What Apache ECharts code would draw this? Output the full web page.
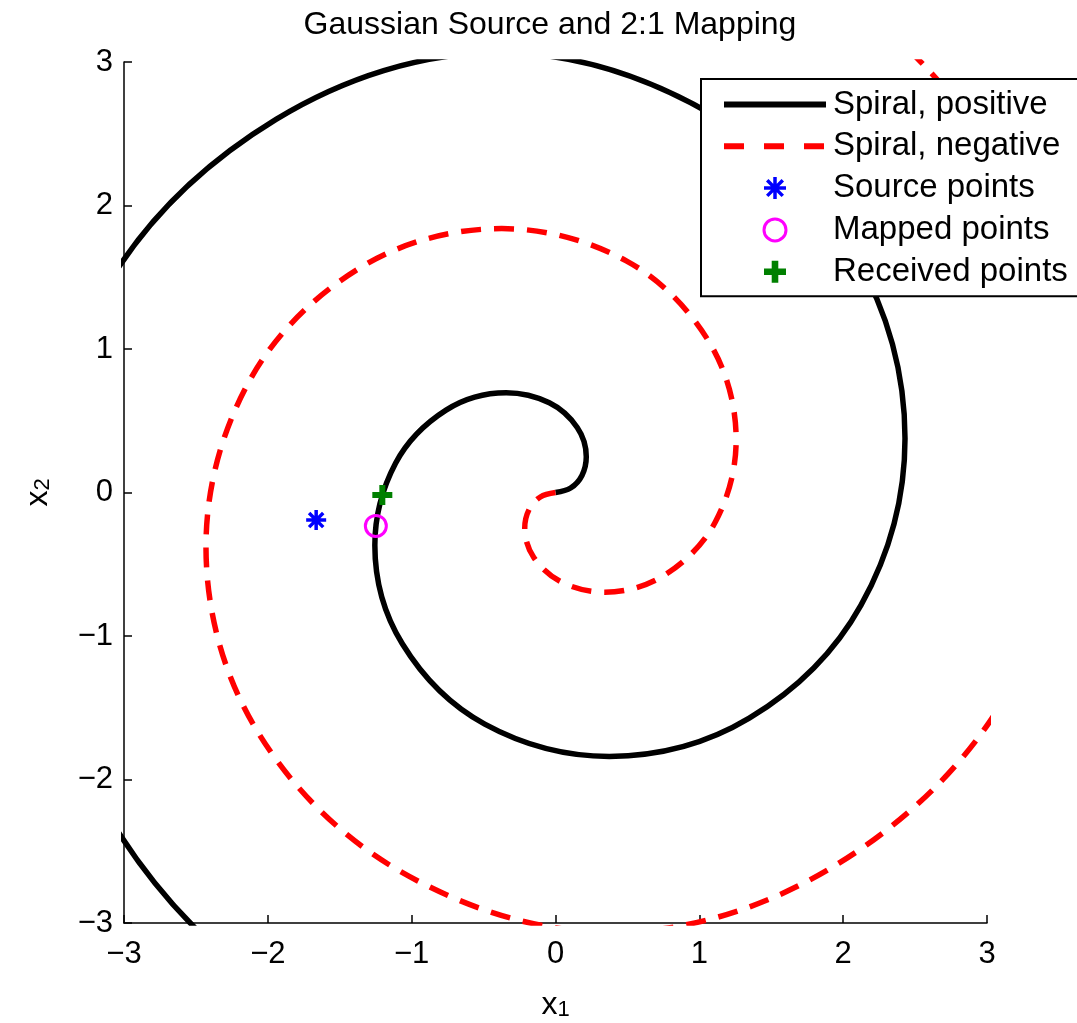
<!DOCTYPE html>
<html>
<head>
<meta charset="utf-8">
<script src="https://cdn.jsdelivr.net/npm/echarts@6/dist/echarts.min.js"></script>
<style>html,body{margin:0;padding:0;background:#fff}#c{width:1077px;height:1023px}</style>
</head>
<body>
<div id="c"></div>
<script>
// ---- data ----
const xTicks = [-3, -2, -1, 0, 1, 2, 3];
const yTicks = [-3, -2, -1, 0, 1, 2, 3];
const titleText = 'Gaussian Source and 2:1 Mapping';
const seriesNames = ['Spiral, positive', 'Spiral, negative', 'Source points', 'Mapped points', 'Received points'];

// points along each spiral arm (incl. its left/right/top/bottom turning points)
const spiralPositive = [
  [0, 0], [0.105, 0.031], [0.184, 0.119], [0.214, 0.249], [0.151, 0.453],
  [-0.043, 0.625], [-0.343, 0.695], [-0.761, 0.574], [-1.112, 0.204],
  [-1.256, -0.367], [-1.065, -1.054], [-0.492, -1.614], [0.374, -1.839],
  [1.347, -1.573], [2.124, -0.785], [2.430, 0.377], [2.085, 1.644],
  [1.081, 2.639], [-0.390, 3.065], [-1.943, 2.600], [-3.153, 1.381],
  [-3.620, -0.379], [-3.117, -2.240], [-1.676, -3.672], [0.382, -4.218]
];
const spiralNegative = [
  [0, 0], [-0.105, -0.031], [-0.184, -0.119], [-0.214, -0.249], [-0.151, -0.453],
  [0.043, -0.625], [0.343, -0.695], [0.761, -0.574], [1.112, -0.204],
  [1.256, 0.367], [1.065, 1.054], [0.492, 1.614], [-0.374, 1.839],
  [-1.347, 1.573], [-2.124, 0.785], [-2.430, -0.377], [-2.085, -1.644],
  [-1.081, -2.639], [0.390, -3.065], [1.943, -2.600], [3.153, -1.381],
  [3.620, 0.379], [3.117, 2.240], [1.676, 3.672], [-0.382, 4.218]
];
const sourcePoints = [[-1.664, -0.192]];
const mappedPoints = [[-1.249, -0.233]];
const receivedPoints = [[-1.204, -0.017]];

// ---- chart ----
const FONT = '"Liberation Sans", Arial, Helvetica, sans-serif';
const fmt = v => String(v).replace('-', '\u2212');
const chart = echarts.init(document.getElementById('c'), null, {renderer: 'canvas'});

const axisCommon = {
  type: 'value',
  axisLine: {onZero: false, lineStyle: {color: '#000', width: 1.5}},
  axisTick: {inside: true, length: 8, lineStyle: {color: '#000', width: 1.5}},
  splitLine: {show: false},
  nameLocation: 'middle'
};
const nameRich = {
  a: {fontFamily: FONT, fontSize: 32, lineHeight: 32, color: '#000', verticalAlign: 'top'},
  b: {fontFamily: FONT, fontSize: 22, lineHeight: 22, color: '#000', verticalAlign: 'bottom', padding: [24, 0, 0, 0]}
};
const tickLabel = {fontFamily: FONT, fontSize: 31, color: '#000', formatter: fmt, showMinLabel: true, showMaxLabel: true};

const asteriskPath = 'path://M0,-10L0,10M-10,0L10,0M-7.07,-7.07L7.07,7.07M-7.07,7.07L7.07,-7.07';
const plusPath = 'path://M-3,-10L3,-10L3,-3L10,-3L10,3L3,3L3,10L-3,10L-3,3L-10,3L-10,-3L-3,-3Z';

const option = {
  animation: false,
  backgroundColor: '#fff',
  title: {
    text: titleText, left: 550, top: 9, padding: 0, textAlign: 'center',
    textStyle: {fontFamily: FONT, fontSize: 32, fontWeight: 'normal', color: '#000'}
  },
  grid: {left: 124, right: 90, top: 62, bottom: 100, containLabel: false, outerBoundsMode: 'none'},
  xAxis: Object.assign({}, axisCommon, {
    min: xTicks[0], max: xTicks[xTicks.length - 1], interval: xTicks[1] - xTicks[0],
    axisLabel: Object.assign({margin: 16}, tickLabel),
    name: '{a|x}{b|1}', nameGap: 55, nameTextStyle: {rich: nameRich}
  }),
  yAxis: Object.assign({}, axisCommon, {
    min: yTicks[0], max: yTicks[yTicks.length - 1], interval: yTicks[1] - yTicks[0],
    axisLabel: Object.assign({margin: 11}, tickLabel),
    name: '{a|x}{b|2}', nameGap: 70, nameRotate: 90, nameTextStyle: {rich: nameRich}
  }),
  legend: {
    orient: 'vertical', left: 701, top: 79,
    padding: [9, 40, 8, 20],
    backgroundColor: '#fff', borderColor: '#000', borderWidth: 2, borderRadius: 0,
    itemWidth: 102, itemHeight: 22, itemGap: 8.8,
    textStyle: {fontFamily: FONT, fontSize: 33, color: '#000', lineHeight: 32, padding: [0, 0, 0, 2]},
    lineStyle: {width: 6},
    selectedMode: false,
    data: [
      {name: seriesNames[0], itemStyle: {opacity: 0}, lineStyle: {width: 6, color: '#000'}},
      {name: seriesNames[1], itemStyle: {opacity: 0}, lineStyle: {width: 6, color: '#ff0000', type: [20, 20]}},
      {name: seriesNames[2], itemStyle: {color: '#0000ff', borderColor: '#0000ff', borderWidth: 3.5, opacity: 1}},
      {name: seriesNames[3], itemStyle: {color: 'rgba(0,0,0,0)', borderColor: '#ff00ff', borderWidth: 3, opacity: 1}},
      {name: seriesNames[4], itemStyle: {color: '#008000', opacity: 1}}
    ]
  },
  series: [
    {
      name: seriesNames[0], type: 'line', data: spiralPositive, symbol: 'none', showSymbol: false,
      smooth: 0.35, clip: true, lineStyle: {color: '#000', width: 5.5}, itemStyle: {color: '#000'},
      emphasis: {disabled: true}, z: 2
    },
    {
      name: seriesNames[1], type: 'line', data: spiralNegative, symbol: 'none', showSymbol: false,
      smooth: 0.35, clip: true, lineStyle: {color: '#ff0000', width: 5.5, type: [20, 13]}, itemStyle: {color: '#ff0000'},
      emphasis: {disabled: true}, z: 2
    },
    {
      name: seriesNames[2], type: 'scatter', data: sourcePoints, symbol: asteriskPath,
      symbolSize: 20, itemStyle: {color: '#0000ff', borderColor: '#0000ff', borderWidth: 3.5, opacity: 1},
      emphasis: {disabled: true}, z: 3
    },
    {
      name: seriesNames[3], type: 'scatter', data: mappedPoints, symbol: 'circle', symbolSize: 21,
      itemStyle: {color: 'rgba(0,0,0,0)', borderColor: '#ff00ff', borderWidth: 3, opacity: 1},
      emphasis: {disabled: true}, z: 3
    },
    {
      name: seriesNames[4], type: 'scatter', data: receivedPoints, symbol: plusPath,
      symbolSize: 20, itemStyle: {color: '#008000', opacity: 1},
      emphasis: {disabled: true}, z: 3
    }
  ]
};
chart.setOption(option);
</script>
</body>
</html>
